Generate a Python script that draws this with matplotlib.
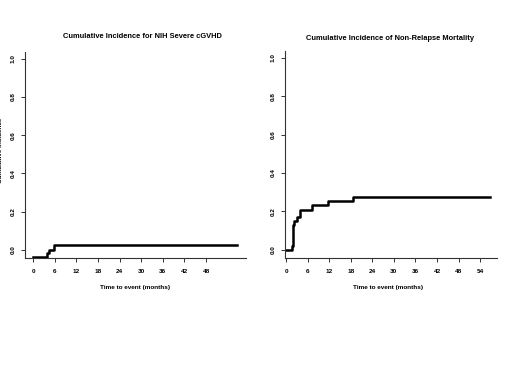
import matplotlib
matplotlib.use("Agg")
import matplotlib.pyplot as plt

plt.rcParams["font.family"] = ["Liberation Sans", "DejaVu Sans"]

# Left: cumulative incidence of NIH severe cGVHD
cgvhd_time = [0.0, 3.9, 4.4, 5.8, 56.7]
cgvhd_ci = [-0.038, -0.017, 0.0, 0.026, 0.026]

# Right: cumulative incidence of non-relapse mortality
nrm_time = [0.0, 1.6, 1.8, 1.9, 2.1, 3.0, 3.9, 7.1, 11.8, 18.7, 56.7]
nrm_ci = [0.0, 0.02, 0.09, 0.13, 0.15, 0.17, 0.21, 0.235, 0.255, 0.275, 0.275]

left_xticks = [0, 6, 12, 18, 24, 30, 36, 42, 48]
right_xticks = [0, 6, 12, 18, 24, 30, 36, 42, 48, 54]
yticks = [0.0, 0.2, 0.4, 0.6, 0.8, 1.0]

W, H = 520, 380
fig = plt.figure(figsize=(W / 100, H / 100), dpi=100)
fig.patch.set_facecolor("white")

def px_axes(x0, x1, ytop, ybot):
    return fig.add_axes([x0 / W, 1 - ybot / H, (x1 - x0) / W, (ybot - ytop) / H])

def style(ax, xticks, xlim):
    ax.set_xlim(*xlim)
    ax.set_ylim(-0.042, 1.035)
    ax.set_xticks(xticks)
    ax.set_yticks(yticks)
    ax.set_xticklabels([str(t) for t in xticks], fontsize=4.6, fontweight="bold")
    ax.set_yticklabels([f"{t:.1f}" for t in yticks], fontsize=4.6, fontweight="bold",
                       rotation=90, va="center")
    for s in ["top", "right"]:
        ax.spines[s].set_visible(False)
    for s in ["left", "bottom"]:
        ax.spines[s].set_linewidth(0.8)
        ax.spines[s].set_color("#333333")
    ax.tick_params(length=3, width=0.7, color="#333333", pad=5)
    ax.tick_params(axis="y", pad=4)

ax1 = px_axes(25, 246, 52, 258)
ax1.step(cgvhd_time, cgvhd_ci, where="post", color="black", lw=1.8)
style(ax1, left_xticks, (-2.3, 59.1))

ax2 = px_axes(285, 497, 51, 258)
ax2.step(nrm_time, nrm_ci, where="post", color="black", lw=1.8)
style(ax2, right_xticks, (-0.3, 58.7))

fig.text(142 / W, 1 - 37 / H, "Cumulative Incidence for NIH Severe cGVHD",
         ha="center", va="center", fontsize=5.4, fontweight="bold")
fig.text(390 / W, 1 - 39 / H, "Cumulative Incidence of Non-Relapse Mortality",
         ha="center", va="center", fontsize=5.4, fontweight="bold")
fig.text(135 / W, 1 - 287 / H, "Time to event (months)",
         ha="center", va="center", fontsize=4.6, fontweight="bold")
fig.text(388 / W, 1 - 287 / H, "Time to event (months)",
         ha="center", va="center", fontsize=4.6, fontweight="bold")
fig.text(0.5 / W, 1 - 150 / H, "Cumulative Incidence",
         ha="center", va="center", rotation=90, fontsize=4.6, fontweight="bold")

fig.savefig("out.png", dpi=100)
